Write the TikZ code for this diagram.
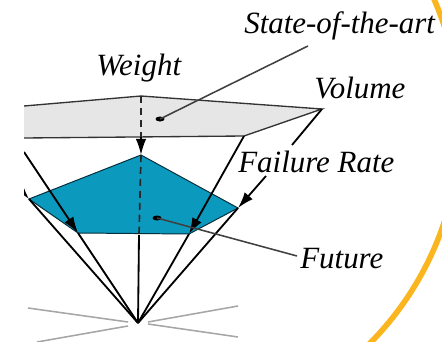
\documentclass[tikz,border=0pt]{standalone}
\usepackage{fontspec}
\setmainfont{Liberation Serif}
\usetikzlibrary{arrows.meta, positioning}

\begin{document}
\begin{tikzpicture}[x=0.025cm, y=-0.025cm, >=LaTeX,
    edgeline/.style={draw=black!80, line width=0.95pt},
    coneline/.style={draw=black, line width=1.3pt},
    headline/.style={coneline, -{Latex[length=11.5pt, width=7.5pt]}},
    axisline/.style={draw=black!85, line width=1.2pt, dash pattern=on 5pt off 3.5pt},
    leader/.style={draw=black!75, line width=1.1pt},
    floorline/.style={draw=black!35, line width=1.1pt},
    label/.style={anchor=base west, inner sep=0pt, font=\fontsize{22}{24}\selectfont\itshape}
    ]

    % --- DEFINITIONS ---
    \definecolor{futureBlue}{RGB}{12, 153, 190}
    \definecolor{stateGrey}{RGB}{230, 230, 230}
    \definecolor{ringOrange}{RGB}{251, 181, 30}

    \useasboundingbox (0,0) rectangle (442,342);

    % --- RING ---
    \begin{scope}
        \clip (0,0) rectangle (442,342);
        \draw[ringOrange, line width=4pt] (148,124) circle (312);
    \end{scope}

    % --- CORNERS ---
    \coordinate (apex) at (138,323);
    \coordinate (topback) at (141,96);
    \coordinate (topright) at (322,109);
    \coordinate (topfront) at (244,136);
    \coordinate (topmid) at (141,137);
    \coordinate (peak) at (141,155);
    \coordinate (lowmid) at (139,235);
    \coordinate (blueleft) at (29,199);
    \coordinate (bluefrontl) at (78,233);
    \coordinate (bluefrontr) at (189,234);
    \coordinate (blueright) at (238,208);

    % --- POLYGONS, cut at the left edge ---
    \begin{scope}
        \clip (24,0) rectangle (442,342);
        \filldraw[fill=stateGrey, edgeline] (24,106) -- (topback) -- (topright)
            -- (topfront) -- (24,138);
        \filldraw[fill=futureBlue, draw=black!70!futureBlue, line width=0.7pt] (peak)
            -- (blueleft) -- (bluefrontl) -- (bluefrontr) -- (blueright) -- cycle;

        % Cone lines
        \coordinate (farleft) at (24,152);
        \coordinate (nearleft) at (12,179);
        \draw[coneline] (bluefrontl) -- (apex);
        \draw[coneline] (blueleft) -- (apex);
        \draw[headline] (farleft) -- (bluefrontl);
        \draw[headline] (nearleft) -- (blueleft);
    \end{scope}

    % --- DASHED AXIS ---
    \draw[axisline] (topback) -- (topmid);
    \draw[headline] (topmid) -- (peak);
    \draw[axisline] (peak) -- (lowmid);
    \draw[coneline] (lowmid) -- (apex);

    % --- RIGHT CONE LINES ---
    \coordinate (breakup) at (292,145);
    \coordinate (breakdown) at (266,176);
    \draw[headline] (topfront) -- (bluefrontr);
    \draw[coneline] (bluefrontr) -- (apex);
    \draw[coneline] (blueright) -- (apex);
    \draw[coneline] (topright) -- (breakup);
    \draw[headline] (breakdown) -- (blueright);

    % --- FLOOR ---
    \draw[floorline] (28,308) -- (128,322);
    \draw[floorline] (37,342) -- (128,326);
    \draw[floorline] (148,322) -- (238,306);
    \draw[floorline] (148,324) -- (238,337);

    % --- LABELS ---
    \node[label] (state) at (244,33) {State-of-the-art};
    \node[label] (weight) at (96,75) {Weight};
    \node[label] (volume) at (314,98) {Volume};
    \node[label] (failure) at (238,172) {Failure Rate};
    \node[label] (future) at (300,268) {Future};

    % --- LEADERS ---
    \coordinate (stateend) at (308,46);
    \coordinate (futureend) at (297,256);
    \coordinate (statedot) at (160,119);
    \coordinate (futuredot) at (157,218);
    \fill[black] (statedot) ellipse (4.5 and 2.5);
    \fill[black] (futuredot) ellipse (4.5 and 2.5);
    \draw[leader] (statedot) -- (stateend);
    \draw[leader] (futuredot) -- (futureend);
\end{tikzpicture}
\end{document}
